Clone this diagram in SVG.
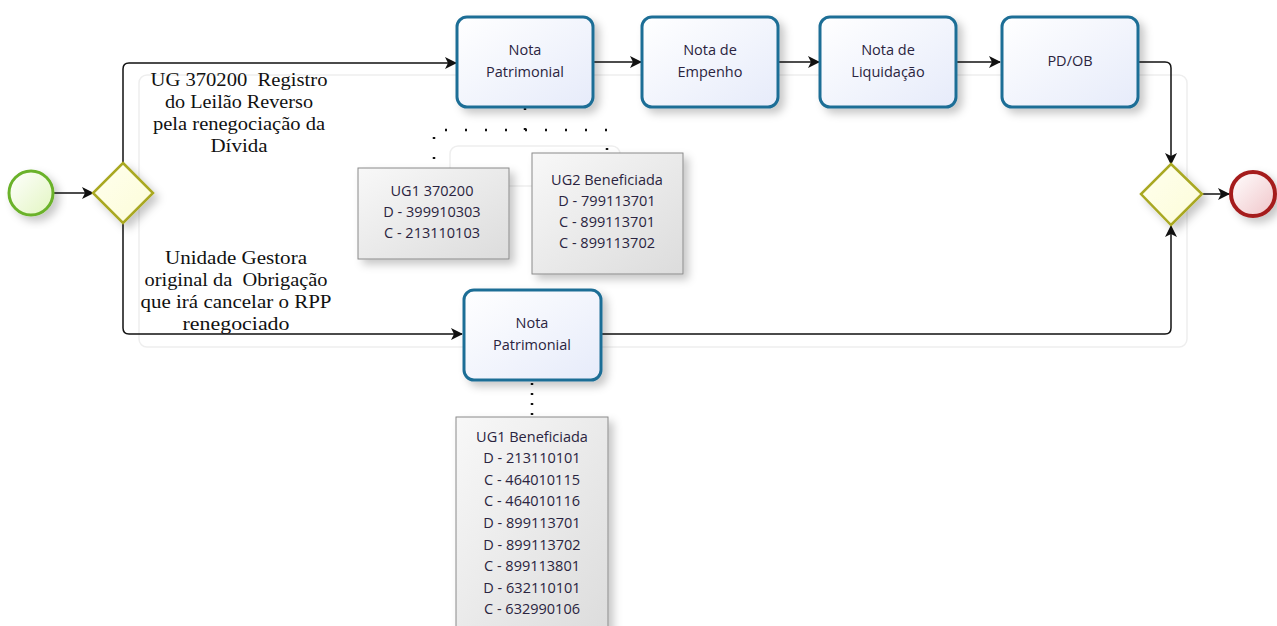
<svg xmlns="http://www.w3.org/2000/svg" width="1277" height="626" viewBox="0 0 1277 626">
<defs>
<linearGradient id="gTask" x1="0" y1="0" x2="1" y2="1"><stop offset="0" stop-color="#ffffff"/><stop offset="1" stop-color="#e6ebfa"/></linearGradient>
<linearGradient id="gStart" x1="0" y1="0" x2="1" y2="1"><stop offset="0" stop-color="#ffffff"/><stop offset="1" stop-color="#e2f5c0"/></linearGradient>
<linearGradient id="gEnd" x1="0" y1="0" x2="1" y2="1"><stop offset="0" stop-color="#ffffff"/><stop offset="1" stop-color="#f0c4c8"/></linearGradient>
<linearGradient id="gGate" x1="0" y1="0" x2="1" y2="1"><stop offset="0" stop-color="#ffffee"/><stop offset="1" stop-color="#fcfcd8"/></linearGradient>
<linearGradient id="gNote" x1="0" y1="0" x2="1" y2="1"><stop offset="0" stop-color="#f8f8f8"/><stop offset="1" stop-color="#dcdcdc"/></linearGradient>
<filter id="sh" x="-20%" y="-20%" width="150%" height="150%"><feDropShadow dx="5" dy="5" stdDeviation="4" flood-color="#000" flood-opacity="0.22"/></filter>
<marker id="arr" viewBox="0 0 12 12" refX="11" refY="6" markerWidth="12" markerHeight="12" markerUnits="userSpaceOnUse" orient="auto"><path d="M0,0 L12,6 L0,12 L3,6 Z" fill="#111"/></marker>
<style>
.task{fill:url(#gTask);stroke:#1f6e96;stroke-width:3;filter:url(#sh)}
.tt{font-family:"Open Sans","Noto Sans",sans-serif;font-size:14.5px;fill:#2a2440;text-anchor:middle}
.lbl{font-family:"Liberation Serif",serif;font-size:18px;fill:#111;text-anchor:middle;white-space:pre}
.note{fill:url(#gNote);stroke:#8a8a8a;stroke-width:1;filter:url(#sh)}
.nt{font-family:"Open Sans","Noto Sans",sans-serif;font-size:14.5px;fill:#2a2440;text-anchor:middle}
.flow{fill:none;stroke:#111;stroke-width:1.5}
.dot{fill:none;stroke:#111;stroke-width:2.5;stroke-dasharray:2 18}
.dot2{fill:none;stroke:#111;stroke-width:2.5;stroke-dasharray:2 8}
.ghost{fill:none;stroke:#eeeeee;stroke-width:1.5}
.gate{fill:url(#gGate);stroke:#a9a823;stroke-width:2.5;filter:url(#sh)}
</style>
</defs>
<rect width="1277" height="626" fill="#ffffff"/>
<g id="ghosts">
<rect class="ghost" x="139" y="75" width="1048" height="272" rx="8"/>
<rect class="ghost" x="450" y="146" width="170" height="40" rx="8"/>
</g>
<g id="connectors">
<path class="flow" d="M54,193 L93,193" marker-end="url(#arr)"/>
<path class="flow" d="M123,163 L123,69 Q123,63 129,63 L456,63" marker-end="url(#arr)"/>
<path class="flow" d="M593,62 L641,62" marker-end="url(#arr)"/>
<path class="flow" d="M778,62 L819,62" marker-end="url(#arr)"/>
<path class="flow" d="M956,62 L1000,62" marker-end="url(#arr)"/>
<path class="flow" d="M1138,62 L1165,62 Q1171,62 1171,68 L1171,164" marker-end="url(#arr)"/>
<path class="flow" d="M123,223 L123,328 Q123,334 129,334 L462,334" marker-end="url(#arr)"/>
<path class="flow" d="M601,334 L1165,334 Q1171,334 1171,328 L1171,226" marker-end="url(#arr)"/>
<path class="flow" d="M1202,194 L1229,194" marker-end="url(#arr)"/>
<path class="dot" d="M525,108 L525,130 L434,130 L434,168"/>
<path class="dot" d="M525,130 L607,130 L607,153"/>
<path class="dot2" d="M532,383 L532,417"/>
</g>
<g id="start"><circle cx="31" cy="193" r="22" fill="url(#gStart)" stroke="#6bb22a" stroke-width="3" filter="url(#sh)"/></g>
<g id="split"><polygon class="gate" points="123,163 153,193 123,223 93,193"/></g>
<g id="label-top">
<text class="lbl" x="239" y="86" textLength="177" lengthAdjust="spacingAndGlyphs" xml:space="preserve">UG 370200  Registro</text>
<text class="lbl" x="239" y="108" textLength="148" lengthAdjust="spacingAndGlyphs">do Leilão Reverso</text>
<text class="lbl" x="239" y="130" textLength="172" lengthAdjust="spacingAndGlyphs">pela renegociação da</text>
<text class="lbl" x="239" y="152" textLength="57" lengthAdjust="spacingAndGlyphs">Dívida</text>
</g>
<g id="label-bottom">
<text class="lbl" x="236" y="264" textLength="142" lengthAdjust="spacingAndGlyphs">Unidade Gestora</text>
<text class="lbl" x="236" y="286" textLength="183" lengthAdjust="spacingAndGlyphs" xml:space="preserve">original da  Obrigação</text>
<text class="lbl" x="236" y="308" textLength="191" lengthAdjust="spacingAndGlyphs">que irá cancelar o RPP</text>
<text class="lbl" x="236" y="330" textLength="107" lengthAdjust="spacingAndGlyphs">renegociado</text>
</g>
<g id="task-np1"><rect class="task" x="457" y="17" width="136" height="90" rx="10"/>
<text class="tt" x="525" y="55">Nota</text><text class="tt" x="525" y="77">Patrimonial</text></g>
<g id="task-ne"><rect class="task" x="642" y="17" width="136" height="90" rx="10"/>
<text class="tt" x="710" y="55">Nota de</text><text class="tt" x="710" y="77">Empenho</text></g>
<g id="task-nl"><rect class="task" x="820" y="17" width="136" height="90" rx="10"/>
<text class="tt" x="888" y="55">Nota de</text><text class="tt" x="888" y="77">Liquidação</text></g>
<g id="task-pdob"><rect class="task" x="1002" y="17" width="136" height="90" rx="10"/>
<text class="tt" x="1070" y="66">PD/OB</text></g>
<g id="task-np2"><rect class="task" x="464" y="290" width="137" height="90" rx="10"/>
<text class="tt" x="532" y="328">Nota</text><text class="tt" x="532" y="350">Patrimonial</text></g>
<g id="join"><polygon class="gate" points="1171,164 1202,194 1171,225 1141,194"/></g>
<g id="end"><circle cx="1253" cy="194" r="22" fill="url(#gEnd)" stroke="#a51d1d" stroke-width="4" filter="url(#sh)"/></g>
<g id="note-ug1"><rect class="note" x="358" y="168" width="151" height="91"/>
<text class="nt" x="432" y="196">UG1 370200</text>
<text class="nt" x="432" y="217">D - 399910303</text>
<text class="nt" x="432" y="238">C - 213110103</text></g>
<g id="note-ug2"><rect class="note" x="532" y="153" width="151" height="121"/>
<text class="nt" x="607" y="185">UG2 Beneficiada</text>
<text class="nt" x="607" y="206">D - 799113701</text>
<text class="nt" x="607" y="227">C - 899113701</text>
<text class="nt" x="607" y="248">C - 899113702</text></g>
<g id="note-ug1b"><rect class="note" x="456" y="417" width="152" height="220"/>
<text class="nt" x="532" y="442">UG1 Beneficiada</text>
<text class="nt" x="532" y="463">D - 213110101</text>
<text class="nt" x="532" y="485">C - 464010115</text>
<text class="nt" x="532" y="506">C - 464010116</text>
<text class="nt" x="532" y="528">D - 899113701</text>
<text class="nt" x="532" y="550">D - 899113702</text>
<text class="nt" x="532" y="571">C - 899113801</text>
<text class="nt" x="532" y="593">D - 632110101</text>
<text class="nt" x="532" y="614">C - 632990106</text></g>
</svg>
